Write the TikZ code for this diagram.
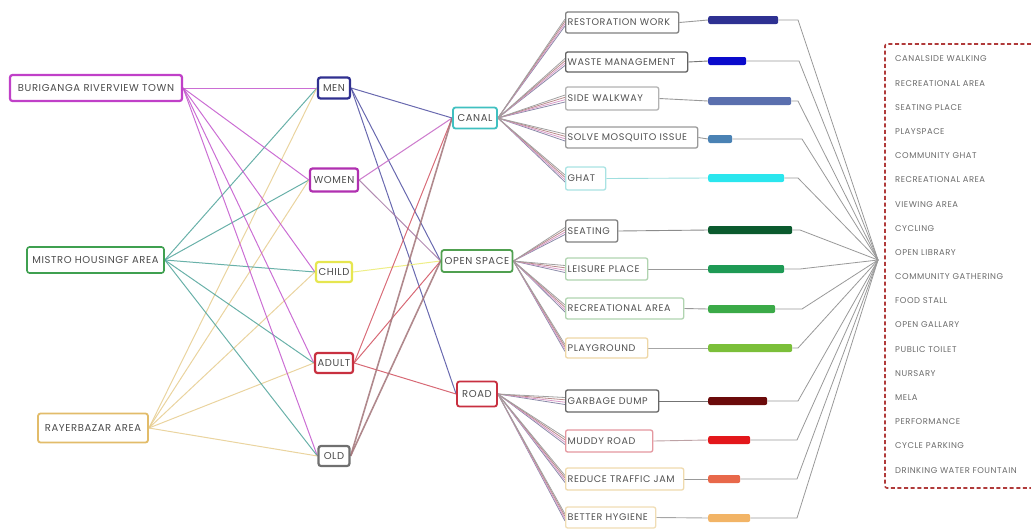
\documentclass[tikz,border=0pt]{standalone}
\usepackage{fontspec}
\setmainfont{Poppins}
\newfontfamily\widefont{Poppins}[LetterSpace=6]
\pgfdeclarelayer{background}
\pgfsetlayers{background,main}
\definecolor{cMag}{HTML}{C040C8}
\definecolor{cGrn}{HTML}{3FA050}
\definecolor{cTan}{HTML}{E2BC6A}
\definecolor{cNavy}{HTML}{303090}
\definecolor{cWom}{HTML}{B030B0}
\definecolor{cYel}{HTML}{E6E650}
\definecolor{cRed}{HTML}{C83040}
\definecolor{cOld}{HTML}{707070}
\definecolor{cTeal}{HTML}{40C0C0}
\definecolor{cOpen}{HTML}{50A050}
\definecolor{lMag}{HTML}{C255CC}
\definecolor{lTeal}{HTML}{4FA39A}
\definecolor{lTan}{HTML}{E6CC8E}
\definecolor{fanA}{HTML}{8A8AA8}
\definecolor{fanB}{HTML}{D89AC8}
\definecolor{fanC}{HTML}{B88A8A}
\definecolor{fanD}{HTML}{A0A0A0}
\definecolor{dashRed}{HTML}{B03A3A}
\definecolor{bRest}{HTML}{2E3192}
\definecolor{bWaste}{HTML}{0A0ACC}
\definecolor{bSide}{HTML}{5A6FAE}
\definecolor{bSolve}{HTML}{4A82B4}
\definecolor{bGhat}{HTML}{2AE6EE}
\definecolor{bSeat}{HTML}{0B5A2E}
\definecolor{bLeis}{HTML}{1E9A55}
\definecolor{bRecr}{HTML}{3BAA48}
\definecolor{bPlay}{HTML}{7BBF3A}
\definecolor{bGarb}{HTML}{6B0A0A}
\definecolor{bMud}{HTML}{E3171B}
\definecolor{bRedu}{HTML}{E8684A}
\definecolor{bBett}{HTML}{F2B466}
\begin{document}
\begin{tikzpicture}[x=1pt,y=-1pt,
  box/.style={draw=#1, rounded corners=2.5pt, line width=2.2pt, fill=white, text=black!70,
    font=\widefont\fontsize{10}{11}\selectfont, inner sep=0pt},
  leaf/.style={draw=#1, rounded corners=2pt, line width=1.3pt, fill=white, text=black!68,
    font=\widefont\fontsize{9.6}{11}\selectfont, inner xsep=2pt, inner ysep=0pt, anchor=west, align=left},
  barbox/.style={fill=#1, rounded corners=2pt, inner sep=0pt, minimum height=8pt, anchor=west},
  lst/.style={anchor=west, text=black!58, font=\widefont\fontsize{8.4}{9}\selectfont, inner sep=0pt},
  link/.style={draw=#1, line width=1pt, opacity=0.85},
  conn/.style={draw=#1, line width=0.9pt},
]
\useasboundingbox (0,0) rectangle (1031,531);

% ---------- left column ----------
\node[box=cMag, minimum width=172pt, minimum height=26pt] (bur) at (96,88) {BURIGANGA RIVERVIEW TOWN};
\node[box=cGrn, line width=1.6pt, minimum width=137pt, minimum height=26pt] (mis) at (95.5,260) {MISTRO HOUSINGF AREA};
\node[box=cTan, line width=1.8pt, minimum width=110pt, minimum height=29pt] (ray) at (93,428) {RAYERBAZAR AREA};

% ---------- people ----------
\node[box=cNavy, minimum width=32pt, minimum height=21pt] (men) at (334,88) {MEN};
\node[box=cWom, minimum width=48pt, minimum height=23pt] (women) at (334,180) {WOMEN};
\node[box=cYel, minimum width=36pt, minimum height=20pt] (child) at (334,272) {CHILD};
\node[box=cRed, minimum width=38pt, minimum height=20pt] (adult) at (334,363) {ADULT};
\node[box=cOld, minimum width=31pt, minimum height=20pt] (old) at (334,456) {OLD};

% ---------- categories ----------
\node[box=cTeal, line width=1.8pt, minimum width=44pt, minimum height=21pt] (canal) at (475,118) {CANAL};
\node[box=cOpen, line width=1.8pt, minimum width=71pt, minimum height=22pt] (open) at (477,261) {OPEN SPACE};
\node[box=cRed, line width=1.8pt, minimum width=40pt, minimum height=25pt] (road) at (477,394) {ROAD};

% ---------- issues ----------
\node[leaf=black!50, text width=109pt, minimum height=21pt] (rest) at (565,22.5) {\mbox{RESTORATION WORK}};
\node[leaf=black!62, text width=118pt, minimum height=20pt] (waste) at (565,62) {\mbox{WASTE MANAGEMENT}};
\node[leaf=black!30, text width=89pt, minimum height=23pt] (side) at (565,98.5) {\mbox{SIDE WALKWAY}};
\node[leaf=black!40, text width=128pt, minimum height=21pt] (solve) at (565,137.5) {\mbox{SOLVE MOSQUITO ISSUE}};
\node[leaf=cTeal!45, text width=36pt, minimum height=23pt] (ghat) at (565,178.5) {\mbox{GHAT}};
\node[leaf=black!50, text width=48pt, minimum height=22pt] (seat) at (565,231) {\mbox{SEATING}};
\node[leaf=cOpen!45, text width=78pt, minimum height=22pt] (leis) at (565,269) {\mbox{LEISURE PLACE}};
\node[leaf=cOpen!45, text width=114pt, minimum height=21pt] (recr) at (565,308.5) {\mbox{RECREATIONAL AREA}};
\node[leaf=cTan!60, text width=78pt, minimum height=20pt] (play) at (565,348) {\mbox{PLAYGROUND}};
\node[leaf=black!60, text width=89pt, minimum height=22pt] (garb) at (565,401) {\mbox{GARBAGE DUMP}};
\node[leaf=cRed!50, text width=83pt, minimum height=22pt] (mud) at (565,441) {\mbox{MUDDY ROAD}};
\node[leaf=cTan!55, text width=114pt, minimum height=22pt] (redu) at (565,479) {\mbox{REDUCE TRAFFIC JAM}};
\node[leaf=cTan!50, text width=86pt, minimum height=21pt] (bett) at (565,517.5) {\mbox{BETTER HYGIENE}};

% ---------- bars ----------
\node[barbox=bRest,  minimum width=70pt] (brest)  at (708,20) {};
\node[barbox=bWaste, minimum width=38pt] (bwaste) at (708,61) {};
\node[barbox=bSide,  minimum width=83pt] (bside)  at (708,101) {};
\node[barbox=bSolve, minimum width=24pt] (bsolve) at (708,139) {};
\node[barbox=bGhat,  minimum width=76pt] (bghat)  at (708,178) {};
\node[barbox=bSeat,  minimum width=84pt] (bseat)  at (708,230) {};
\node[barbox=bLeis,  minimum width=76pt] (bleis)  at (708,269) {};
\node[barbox=bRecr,  minimum width=67pt] (brecr)  at (708,309) {};
\node[barbox=bPlay,  minimum width=84pt] (bplay)  at (708,348) {};
\node[barbox=bGarb,  minimum width=59pt] (bgarb)  at (708,401) {};
\node[barbox=bMud,   minimum width=42pt] (bmud)   at (708,440) {};
\node[barbox=bRedu,  minimum width=32pt] (bredu)  at (708,479) {};
\node[barbox=bBett,  minimum width=42pt] (bbett)  at (708,518) {};

% bend points and fan point
\coordinate (fan) at (878,260);
\coordinate (erest) at (798,20);
\coordinate (ewaste) at (799,61);
\coordinate (eside) at (798,101);
\coordinate (esolve) at (802,139);
\coordinate (eghat) at (798,178);
\coordinate (eseat) at (800,230);
\coordinate (eleis) at (800,269);
\coordinate (erecr) at (802,309);
\coordinate (eplay) at (798,348);
\coordinate (egarb) at (798,401);
\coordinate (emud) at (797,440);
\coordinate (eredu) at (797,479);
\coordinate (ebett) at (797,518);

% ---------- right list ----------
\draw[draw=dashRed, dashed, dash pattern=on 4pt off 2.6pt, line width=1.6pt, rounded corners=2pt]
  (1031,44) -- (885,44) -- (885,488) -- (1031,488);
\foreach \t [count=\i from 0] in {CANALSIDE WALKING, RECREATIONAL AREA, SEATING PLACE, PLAYSPACE,
  COMMUNITY GHAT, RECREATIONAL AREA, VIEWING AREA, CYCLING, OPEN LIBRARY, COMMUNITY GATHERING,
  FOOD STALL, OPEN GALLARY, PUBLIC TOILET, NURSARY, MELA, PERFORMANCE, CYCLE PARKING,
  DRINKING WATER FOUNTAIN}{
  \node[lst] (r\i) at (895,{59+24.18*\i}) {\t};
}

\begin{pgfonlayer}{background}
% places -> people
\foreach \p in {men,women,child,adult,old}{
  \draw[link=lMag] (bur.east) -- (\p.west);
  \draw[link=lTeal] (mis.east) -- (\p.west);
  \draw[link=lTan] (ray.east) -- (\p.west);
}
% people -> categories
\draw[link=cNavy!85] (men.east) -- (canal.west);
\draw[link=cNavy!85] (men.east) -- (open.west);
\draw[link=cNavy!85] (men.east) -- (road.west);
\draw[link=cWom!75] (women.east) -- (canal.west);
\draw[link=cWom!60!black!60] (women.east) -- (open.west);
\draw[link=cYel!80] (child.east) -- (open.west);
\draw[link=cRed!85] (adult.east) -- (canal.west);
\draw[link=cRed!85] (adult.east) -- (open.west);
\draw[link=cRed!85] (adult.east) -- (road.west);
\draw[link=cRed!50!black!60, line width=1.6pt] (old.east) -- (canal.west);
\draw[link=cRed!50!black!60, line width=1.6pt] (old.east) -- (open.west);
% categories -> issues (bundles)
\foreach \pp/\kids in {canal/{rest,waste,side,solve,ghat}, open/{seat,leis,recr,play}, road/{garb,mud,redu,bett}}{
  \foreach \c in \kids {
    \foreach \o/\col in {-3.5/fanA,-1.2/fanB,1.2/fanC,3.5/fanD}{
      \draw[conn=\col, line width=0.8pt] (\pp.east) -- ([yshift=\o pt]\c.west);
    }
  }
}
% issues -> bars -> summary
\foreach \c/\lc in {rest/black!40, waste/black!55, side/black!40, solve/black!40, ghat/cTeal!50,
  seat/black!45, leis/black!40, recr/black!40, play/black!35, garb/black!55, mud/cRed!45!black!40,
  redu/black!40, bett/black!35}{
  \draw[conn=\lc] (\c.east) -- (b\c.west);
  \draw[conn=black!40, line width=0.8pt] (b\c.east) -- (e\c) -- (fan);
}
\end{pgfonlayer}
\end{tikzpicture}
\end{document}
